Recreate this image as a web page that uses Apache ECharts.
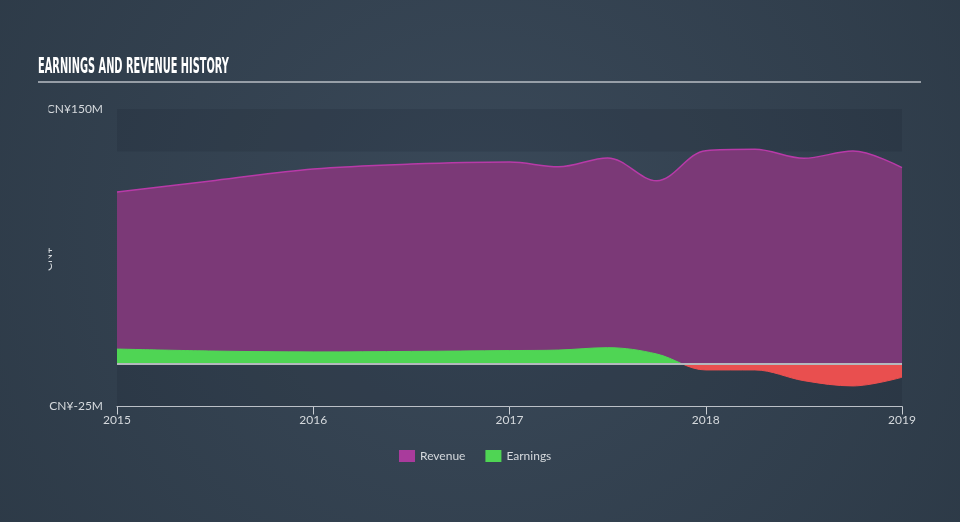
<!DOCTYPE html>
<html>
<head>
<meta charset="utf-8">
<script src="https://cdn.jsdelivr.net/npm/echarts@6/dist/echarts.min.js"></script>
<style>html,body{margin:0;padding:0;}#c{width:960px;height:522px;}</style>
</head>
<body>
<div id="c"></div>
<script>
const years = [2015, 2015.5, 2016, 2016.5, 2017, 2017.25, 2017.5, 2017.75, 2018, 2018.25, 2018.5, 2018.75, 2019];
const revenue = [101.2, 108, 114.7, 117.6, 118.8, 116, 121.2, 107.8, 125.5, 126.3, 121, 125.3, 115.5];
const earnings = [8.8, 7.6, 7.1, 7.4, 7.9, 8.2, 9.6, 5.9, -3.5, -3.5, -9.8, -12.9, -7.8];
const yTickLabels = {150: 'CN¥150M', '-25': 'CN¥-25M'};
const seriesNames = ['Revenue', 'Earnings'];

const bg = {type: 'radial', x: 480, y: 230, r: 620, global: true,
  colorStops: [{offset: 0, color: '#3a4959'}, {offset: 1, color: '#2c3946'}]};

const chart = echarts.init(document.getElementById('c'), null, {renderer: 'canvas'});
chart.setOption({
  backgroundColor: bg,
  animation: false,
  textStyle: {fontFamily: 'Lato, "Noto Sans", sans-serif'},
  graphic: [
    {type: 'text', x: 38, y: 57, scaleX: 0.52, z: 100,
     style: {text: 'EARNINGS AND REVENUE HISTORY', font: 'bold 21px "Liberation Sans Narrow", "DejaVu Sans Condensed", sans-serif', fill: '#ffffff'}},
    {type: 'line', z: 100, shape: {x1: 38, y1: 82, x2: 921, y2: 82}, style: {stroke: '#b8bec5', lineWidth: 1.5}},
    {type: 'text', x: 48, y: 259, rotation: Math.PI / 2, z: 50,
     style: {text: 'CN¥', font: '12px Lato, sans-serif', fill: '#d5d9dd', align: 'center', verticalAlign: 'middle'}},
    {type: 'rect', z: 100, shape: {x: 0, y: 95, width: 48.5, height: 325}, style: {fill: bg}}
  ],
  grid: {left: 117, right: 58, top: 109, bottom: 115.5},
  legend: {
    data: seriesNames, top: 445, left: 394, icon: 'rect',
    itemWidth: 16, itemHeight: 12, itemGap: 20,
    textStyle: {color: '#d5d9dd', fontSize: 12}
  },
  visualMap: {
    show: false, seriesIndex: 1, dimension: 1,
    pieces: [{gte: -100, lt: 0, color: '#e94f4f'}, {gte: 0, lte: 300, color: '#4fd554'}]
  },
  xAxis: {
    type: 'value', min: 2015, max: 2019, interval: 1,
    axisLine: {onZero: false, lineStyle: {color: '#c9ced4', width: 1}},
    axisTick: {show: true, length: 8, lineStyle: {color: '#c9ced4'}},
    axisLabel: {color: '#d5d9dd', fontSize: 12, margin: 8, formatter: v => String(v)},
    splitLine: {show: false}
  },
  yAxis: {
    type: 'value', min: -25, max: 150, interval: 25,
    axisLine: {show: false}, axisTick: {show: false}, splitLine: {show: false},
    axisLabel: {color: '#d5d9dd', fontSize: 12, margin: 14,
      formatter: v => yTickLabels[String(v)] || ''}
  },
  series: [
    {
      name: 'Revenue', type: 'line', smooth: 0.35, symbol: 'none',
      data: years.map((y, i) => [y, revenue[i]]),
      itemStyle: {color: '#a93b9c'},
      lineStyle: {color: '#b83aa8', width: 1.5},
      areaStyle: {color: '#7b3977', opacity: 1},
      markArea: {
        silent: true,
        itemStyle: {color: 'rgba(20,30,42,0.15)'},
        data: [[{yAxis: 125}, {yAxis: 150}], [{yAxis: -25}, {yAxis: 0}]]
      }
    },
    {
      name: 'Earnings', type: 'line', smooth: 0.35, symbol: 'none',
      data: years.map((y, i) => [y, earnings[i]]),
      itemStyle: {color: '#4fd554'},
      lineStyle: {width: 1},
      areaStyle: {opacity: 1},
      markLine: {
        silent: true, symbol: 'none', label: {show: false},
        lineStyle: {color: '#b4b8bd', width: 2, type: 'solid'},
        data: [{yAxis: 0}]
      }
    }
  ]
});
</script>
</body>
</html>
